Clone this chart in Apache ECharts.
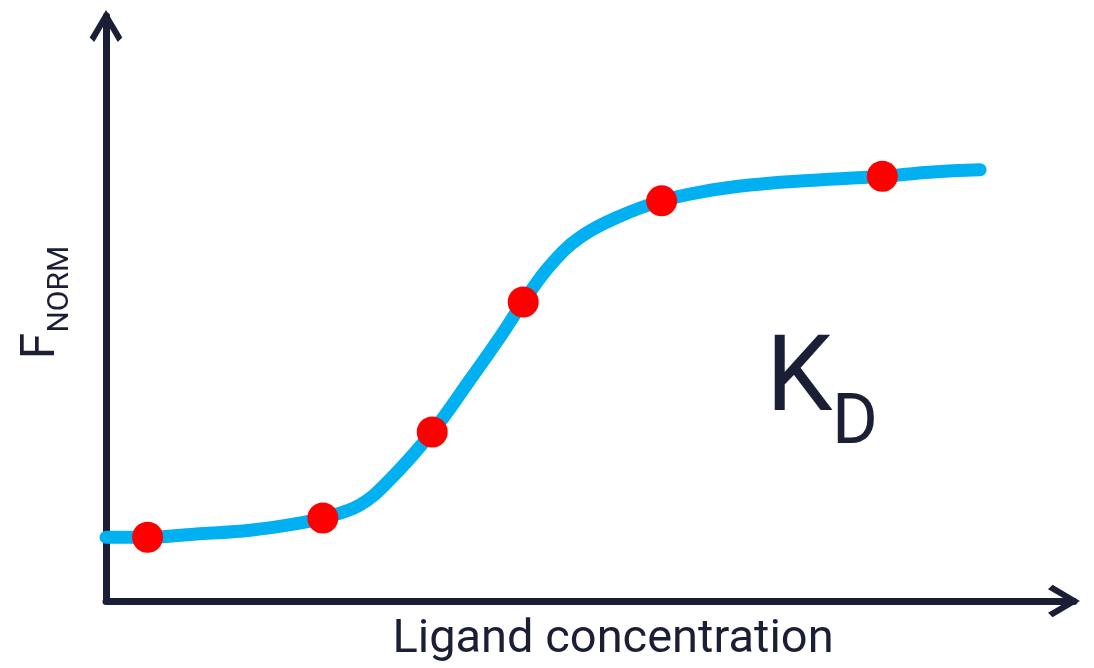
<!DOCTYPE html>
<html lang="en">
<head>
	<meta charset="UTF-8">
	<title>Binding curve</title>
	<style type="text/css">
		html, body { margin: 0; padding: 0; background: #fff; }
		#container { width: 1094px; height: 668px; }
	</style>
	<script type="text/javascript" src="https://cdn.jsdelivr.net/npm/echarts@6/dist/echarts.min.js"></script>
</head>
<body>
	<div id="container"></div>
	<script type="text/javascript">
	// fitted curve (x: 0..100, y: 0..100, no units)
	var curveX = [0, 4.3, 9.7, 14.9, 20.0, 22.4, 26.2, 29.3, 33.7, 37.6, 40.7, 43.1, 45.9, 49.0, 53.1, 57.4, 61.4, 66.5, 71.7, 80.2, 85.1, 90.3];
	var curveY = [10.9, 10.9, 11.5, 12.1, 13.3, 14.2, 16.4, 20.7, 28.9, 37.8, 45.1, 51.1, 57.4, 62.2, 65.8, 68.4, 69.9, 71.1, 71.8, 72.6, 73.3, 73.7];
	// measured points
	var pointX = [4.3, 22.4, 33.7, 43.1, 57.4, 80.2];
	var pointY = [10.9, 14.2, 28.9, 51.1, 68.4, 72.6];

	var axisColor = '#1b1f36';
	// open chevron arrow head
	var chevron = 'path://M50 0 L100 84 L86 98 L50 36 L14 98 L0 84 Z';

	var dom = document.getElementById("container");
	var myChart = echarts.init(dom);

	var option = {
		animation: false,
		grid: { left: 106, right: 20, top: 16, bottom: 67, outerBoundsMode: 'none', containLabel: false },
		xAxis: {
			type: 'value',
			min: 0,
			max: 100,
			name: 'Ligand concentration',
			nameLocation: 'middle',
			nameGap: 16,
			nameTextStyle: {
				fontFamily: 'Roboto',
				fontSize: 47,
				color: axisColor,
				padding: [0, 0, 0, 46]
			},
			axisLine: {
				lineStyle: { color: axisColor, width: 7 },
				symbol: ['none', chevron],
				symbolSize: [34, 32],
				symbolOffset: [0, -10]
			},
			axisTick: { show: false },
			axisLabel: { show: false },
			splitLine: { show: false }
		},
		yAxis: {
			type: 'value',
			min: 0,
			max: 100,
			name: '{f|F}{s|NORM}',
			nameLocation: 'middle',
			nameGap: 31,
			nameTextStyle: {
				color: axisColor,
				fontFamily: 'Roboto',
				padding: [0, 0, 0, 12],
				rich: {
					f: { fontSize: 48, fontFamily: 'Roboto', color: axisColor, verticalAlign: 'bottom', padding: [0, 0, 9, 0] },
					s: { fontSize: 30, fontFamily: 'Roboto', color: axisColor, verticalAlign: 'bottom' }
				}
			},
			axisLine: {
				show: true,
				lineStyle: { color: axisColor, width: 7 },
				symbol: ['none', chevron],
				symbolSize: [34, 32],
				symbolOffset: [0, -10]
			},
			axisTick: { show: false },
			axisLabel: { show: false },
			splitLine: { show: false }
		},
		graphic: [
			{ type: 'text', left: 766, top: 330, style: { text: 'K', fontFamily: 'Roboto', fontSize: 106, fill: axisColor } },
			{ type: 'text', left: 832, top: 390, style: { text: 'D', fontFamily: 'Roboto', fontSize: 70, fill: axisColor } }
		],
		series: [
			{
				type: 'line',
				data: curveX.map(function (x, i) { return [x, curveY[i]]; }),
				smooth: 0.4,
				showSymbol: false,
				lineStyle: { color: '#00b0f0', width: 13, cap: 'round' },
				z: 2
			},
			{
				type: 'scatter',
				data: pointX.map(function (x, i) { return [x, pointY[i]]; }),
				symbolSize: 31,
				itemStyle: { color: '#ff0000', opacity: 1 },
				z: 3
			}
		]
	};
	myChart.setOption(option);
	</script>
</body>
</html>
